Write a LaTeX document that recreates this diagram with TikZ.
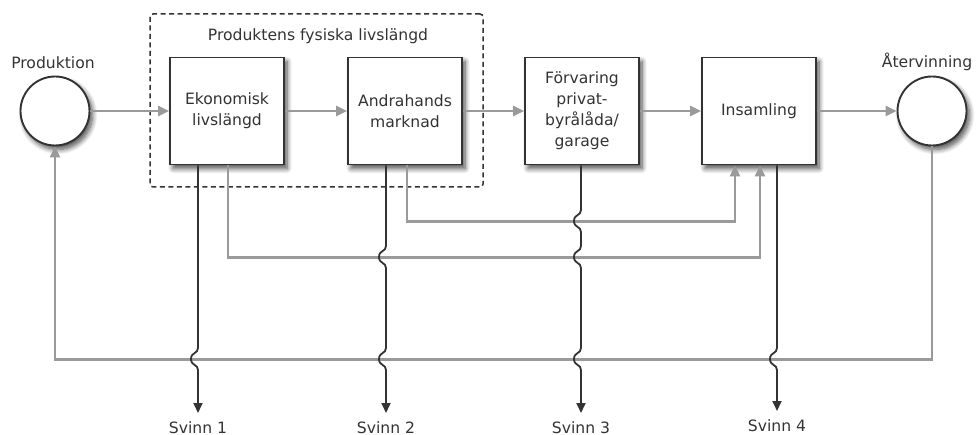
\documentclass[tikz,border=0pt]{standalone}
\usepackage{fontspec}
\setmainfont{DejaVu Sans}
\usetikzlibrary{arrows.meta,calc,shadows.blur}

\definecolor{flowgray}{HTML}{9A9A9A}
\definecolor{inkdark}{HTML}{333333}

% a vertical line that hops leftwards over a horizontal line at height #2
\newcommand\hopdown[2]{-- (#1,#2-11) .. controls (#1,#2-5) and (#1-7,#2-7) .. (#1-7,#2) .. controls (#1-7,#2+7) and (#1,#2+5) .. (#1,#2+11)}

\begin{document}
\begin{tikzpicture}[x=1pt,y=-1pt,
  lbl/.style={font=\fontsize{15.6}{21}\selectfont, text=inkdark, align=center},
  softshadow/.style={blur shadow={shadow xshift=3pt, shadow yshift=-4pt,
      shadow blur radius=5pt, shadow blur steps=8, shadow opacity=70}},
  stage/.style={lbl, draw=inkdark, line width=1.9pt, fill=white,
      minimum width=114pt, minimum height=107pt, inner sep=0pt, softshadow},
  endpoint/.style={draw=inkdark, line width=1.9pt, fill=white, circle,
      minimum size=69pt, inner sep=0pt, softshadow},
  frame/.style={draw=inkdark, line width=1.5pt, dash pattern=on 5pt off 3.5pt,
      rounded corners=3pt, minimum width=333pt, minimum height=173pt, inner sep=0pt},
  flow/.style={draw=flowgray, line width=2.7pt, -{Triangle[length=11pt,width=10pt]}},
  loss/.style={draw=inkdark, line width=1.8pt, -{Triangle[length=10pt,width=9pt]},
      shorten >=8pt},
  svinn/.style={lbl, inner sep=0pt, anchor=north}
]
\useasboundingbox (0,0) rectangle (976,435);

% frame around the physical life span
\node[frame] (phys) at (316.5,100.5) {};
\node[lbl] (physlbl) at (318,36) {Produktens fysiska livslängd};

% start and end points
\node[endpoint] (prod) at (55,111) {};
\node[lbl] (prodlbl) at (53,63) {Produktion};
\node[endpoint] (atv) at (932,111) {};
\node[lbl] (atvlbl) at (927,62) {Återvinning};

% stages
\node[stage] (eko)  at (227,111) {Ekonomisk\\livslängd};
\node[stage] (and)  at (405,111) {Andrahands\\marknad};
\node[stage] (forv) at (582,111) {Förvaring\\privat-\\byrålåda/\\garage};
\node[stage] (ins)  at (759,111) {Insamling};

% loss labels
\node[svinn] (sv1) at (198,421) {Svinn 1};
\node[svinn] (sv2) at (386,421) {Svinn 2};
\node[svinn] (sv3) at (581,421) {Svinn 3};
\node[svinn] (sv4) at (777,419) {Svinn 4};

% main flow
\draw[flow] (prod) -- (eko);
\draw[flow] (eko) -- (and);
\draw[flow] (and) -- (forv);
\draw[flow] (forv) -- (ins);
\draw[flow] (ins) -- (atv);

% feeds to collection
\draw[flow] ([xshift=1pt]eko.south) -- ++(0,92) -| ([xshift=1pt]ins.south);
\draw[flow] ([xshift=2pt]and.south) -- ++(0,56) -| ([xshift=-24pt]ins.south);

% recycling back to production
\draw[flow] (atv.south) -- ++(0,213) -| (prod.south);

% losses
\draw[loss] ([xshift=-29pt]eko.south) \hopdown{198}{359} -- (sv1.north);
\draw[loss] ([xshift=-19pt]and.south) \hopdown{386}{257} \hopdown{386}{359} -- (sv2.north);
\draw[loss] ([xshift=-1pt]forv.south) \hopdown{581}{221} \hopdown{581}{257} \hopdown{581}{359} -- (sv3.north);
\draw[loss] ([xshift=18pt]ins.south) \hopdown{777}{359} -- (sv4.north);
\end{tikzpicture}
\end{document}
